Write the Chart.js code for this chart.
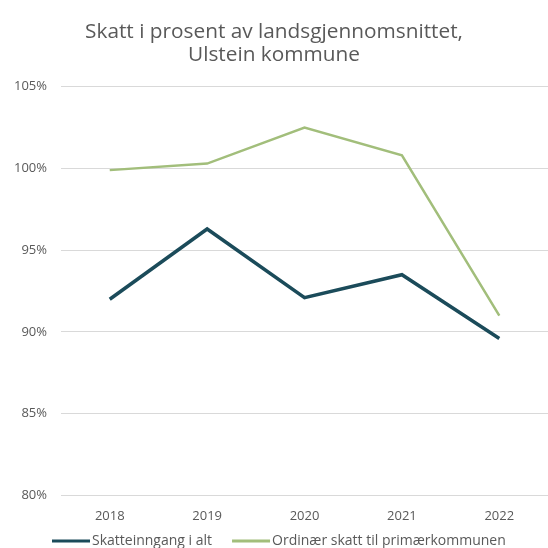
<!DOCTYPE html>
<html>
<head>
<meta charset="utf-8">
<script src="https://cdn.jsdelivr.net/npm/chart.js@4/dist/chart.umd.min.js"></script>
<style>
html,body{margin:0;padding:0;background:#fff;}
#wrap{width:548px;height:548px;}
</style>
</head>
<body>
<div id="wrap"><canvas id="c" width="548" height="548"></canvas></div>
<script>
const categories = ["2018", "2019", "2020", "2021", "2022"];
const skatteinngang = [92.0, 96.3, 92.1, 93.5, 89.6];
const ordinaer = [99.9, 100.3, 102.5, 100.8, 91.0];
const seriesNames = ["Skatteinngang i alt", "Ordinær skatt til primærkommunen"];
const titleLines = ["Skatt i prosent av landsgjennomsnittet,", "Ulstein kommune"];

const darkColor = "#1b4b5a";
const greenColor = "#a2be7b";
const textColor = "#595959";
const fontFamily = "'Open Sans'";

// Legend drawn with the dataset labels/colours (line swatch followed closely by text)
const lineLegend = {
  id: "lineLegend",
  afterDraw(chart) {
    const ctx = chart.ctx;
    ctx.save();
    ctx.font = "14px " + fontFamily;
    ctx.textBaseline = "middle";
    ctx.textAlign = "left";
    const y = 541;
    let x = 52;
    chart.data.datasets.forEach(ds => {
      ctx.strokeStyle = ds.borderColor;
      ctx.lineWidth = 3;
      ctx.beginPath();
      ctx.moveTo(x, y);
      ctx.lineTo(x + 38, y);
      ctx.stroke();
      x += 40;
      ctx.fillStyle = textColor;
      ctx.fillText(ds.label, x, y);
      x += ctx.measureText(ds.label).width + 20;
    });
    ctx.restore();
  }
};

new Chart(document.getElementById("c"), {
  type: "line",
  data: {
    labels: categories,
    datasets: [
      {label: seriesNames[0], data: skatteinngang, borderColor: darkColor, backgroundColor: darkColor, borderWidth: 3.5, pointRadius: 0, tension: 0},
      {label: seriesNames[1], data: ordinaer, borderColor: greenColor, backgroundColor: greenColor, borderWidth: 2.5, pointRadius: 0, tension: 0}
    ]
  },
  plugins: [lineLegend],
  options: {
    responsive: false,
    animation: false,
    layout: {padding: {left: 0, right: 0, top: 0, bottom: 19}},
    plugins: {
      title: {display: true, text: titleLines, color: textColor, font: {family: fontFamily, size: 20.8, weight: "normal", lineHeight: 1.1}, padding: {top: 21, bottom: 20}},
      legend: {display: false},
      tooltip: {enabled: false}
    },
    scales: {
      x: {
        offset: true,
        grid: {display: false},
        border: {display: false},
        ticks: {color: textColor, font: {family: fontFamily, size: 13}, padding: 5}
      },
      y: {
        min: 80, max: 105,
        ticks: {stepSize: 5, color: textColor, font: {family: fontFamily, size: 13}, padding: 14, callback: v => v + "%"},
        grid: {color: "#d9d9d9", drawTicks: false},
        border: {display: false}
      }
    }
  }
});
</script>
</body>
</html>
